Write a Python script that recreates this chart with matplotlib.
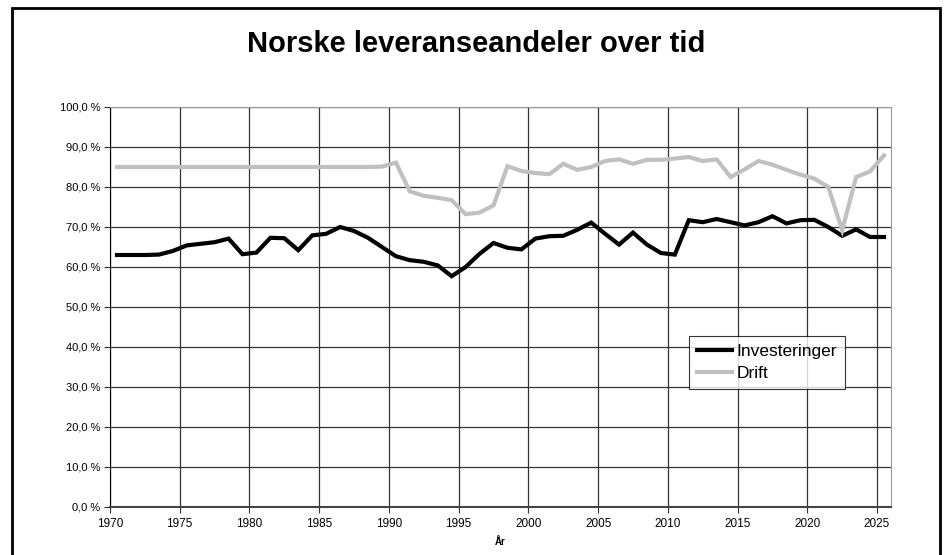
import numpy as np
import matplotlib
matplotlib.use("Agg")
import matplotlib.pyplot as plt
from matplotlib.patches import Rectangle
from matplotlib.ticker import FuncFormatter, MultipleLocator

plt.rcParams['font.family'] = ['Liberation Sans', 'DejaVu Sans']

years = np.arange(1970, 2026)

investeringer = [
    63.0, 63.0, 63.0, 63.1, 64.0, 65.4, 65.8, 66.2, 67.1, 63.2,
    63.6, 67.3, 67.2, 64.2, 67.9, 68.3, 70.0, 69.0, 67.3, 65.0,
    62.7, 61.7, 61.3, 60.4, 57.7, 60.0, 63.3, 66.0, 64.8, 64.4,
    67.1, 67.7, 67.8, 69.3, 71.1, 68.3, 65.6, 68.6, 65.6, 63.5,
    63.1, 71.7, 71.2, 72.0, 71.2, 70.4, 71.2, 72.7, 70.9, 71.7,
    71.8, 70.0, 67.8, 69.4, 67.5, 67.5,
]

drift = [
    85.0, 85.0, 85.0, 85.0, 85.0, 85.0, 85.0, 85.0, 85.0, 85.0,
    85.0, 85.0, 85.0, 85.0, 85.0, 85.0, 85.0, 85.0, 85.0, 85.1,
    86.1, 78.9, 77.8, 77.3, 76.7, 73.2, 73.6, 75.4, 85.2, 84.0,
    83.5, 83.2, 85.8, 84.3, 85.0, 86.5, 86.9, 85.8, 86.8, 86.8,
    87.1, 87.5, 86.5, 86.9, 82.5, 84.4, 86.5, 85.6, 84.3, 83.1,
    82.1, 80.0, 69.2, 82.5, 83.9, 87.9,
]

fig = plt.figure(figsize=(9.52, 5.55), dpi=100)
ax = fig.add_axes([110 / 952, 1 - 507 / 555, 781 / 952, 400 / 555])

# points sit in the middle of each year category
ax.plot(years + 0.5, investeringer, color="black", lw=3, label="Investeringer", solid_joinstyle="miter")
ax.plot(years + 0.5, drift, color="#c0c0c0", lw=3, label="Drift", solid_joinstyle="miter")

ax.set_xlim(1970, 2026)
ax.set_ylim(0, 100)
ax.set_xticks(np.arange(1970, 2026, 5))
ax.yaxis.set_major_locator(MultipleLocator(10))
ax.yaxis.set_major_formatter(FuncFormatter(lambda v, p: f"{v:.1f} %".replace(".", ",")))

ax.grid(True, color="#333333", lw=0.9)
ax.set_axisbelow(True)
ax.tick_params(labelsize=8, length=4, width=0.8, color="#333333", pad=3)
ax.tick_params(axis="x", labelsize=8.5, pad=4)
for side in ["top", "right"]:
    ax.spines[side].set_color("#999999")
ax.spines["left"].set_color("black")
ax.spines["bottom"].set_color("#444444")
ax.spines["bottom"].set_linewidth(1.5)

ax.set_xlabel("År", fontsize=7, fontweight="bold", labelpad=5)

fig.text(0.5, 1 - 44 / 555, "Norske leveranseandeler over tid", ha="center", va="center",
         fontsize=21, fontweight="bold")

leg = ax.legend(loc="upper left", bbox_to_anchor=((689 - 110) / 781, (507 - 336) / 400),
                fontsize=12.5, frameon=True, fancybox=False, handlelength=2,
                handletextpad=0.3, borderpad=0.45, labelspacing=0.4, borderaxespad=0)
leg.get_frame().set_edgecolor("black")
leg.get_frame().set_linewidth(0.8)

fig.patches.append(Rectangle((12 / 952, -0.05), 928 / 952, 1.05 - 8 / 555, transform=fig.transFigure,
                             fill=False, edgecolor="black", lw=2))

fig.savefig("out.png", dpi=100)
